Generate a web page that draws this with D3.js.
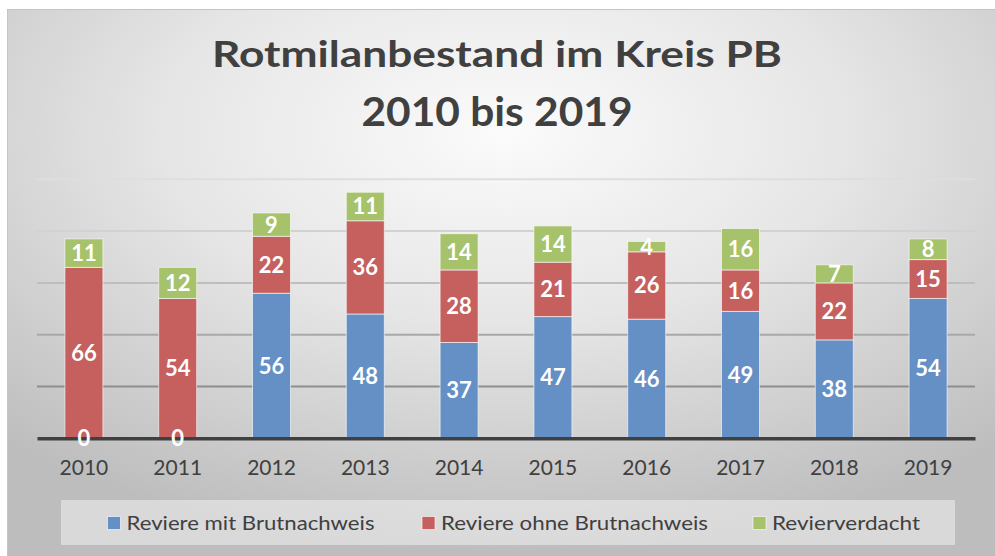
<!DOCTYPE html>
<html><head><meta charset="utf-8">
<script src="https://cdn.jsdelivr.net/npm/d3@7"></script>
<style>html,body{margin:0;padding:0;background:#fff;}svg{display:block;}</style>
</head><body>
<svg id="chart" width="995" height="556"></svg>
<script>
const years = ["2010","2011","2012","2013","2014","2015","2016","2017","2018","2019"];
const mitBrut = [0,0,56,48,37,47,46,49,38,54];
const ohneBrut = [66,54,22,36,28,21,26,16,22,15];
const verdacht = [11,12,9,11,14,14,4,16,7,8];
const seriesNames = ["Reviere mit Brutnachweis","Reviere ohne Brutnachweis","Revierverdacht"];
const seriesColors = ["#6590c5","#c5605e","#a6c26b"];
const gridTicks = [20,40,60,80,100];
const gridColors = ["#8e8e8e","#a8a8a8","#bebebe","#d2d2d2","#dedede"];

const svg = d3.select("#chart");
const defs = svg.append("defs");
const rg = defs.append("radialGradient").attr("id","bg")
  .attr("cx","50%").attr("cy","22%").attr("r","75%").attr("fx","50%").attr("fy","22%");
rg.append("stop").attr("offset","0%").attr("stop-color","#fbfbfb");
rg.append("stop").attr("offset","45%").attr("stop-color","#e6e6e6");
rg.append("stop").attr("offset","100%").attr("stop-color","#bdbdbd");

svg.append("rect").attr("x",7.5).attr("y",9.5).attr("width",995).attr("height",560)
  .attr("fill","url(#bg)").attr("stroke","#c4c4c4").attr("stroke-width",1);

// title
svg.append("text").attr("x",497).attr("y",67).attr("text-anchor","middle")
  .attr("font-family","Lato").attr("font-weight","bold").attr("font-size",37)
  .attr("fill","#404040").attr("textLength",570).attr("lengthAdjust","spacingAndGlyphs")
  .text("Rotmilanbestand im Kreis PB");
svg.append("text").attr("x",497).attr("y",126).attr("text-anchor","middle")
  .attr("font-family","Lato").attr("font-weight","bold").attr("font-size",41)
  .attr("fill","#404040").attr("textLength",271).attr("lengthAdjust","spacingAndGlyphs")
  .text("2010 bis 2019");

const x = d3.scaleBand().domain(years).range([37,975]).paddingInner(0.595).paddingOuter(0.2975);
const y = d3.scaleLinear().domain([0,100]).range([438.3,179.3]);

// gridlines
svg.append("g").selectAll("line").data(gridTicks).join("line")
  .attr("x1",37).attr("x2",975).attr("y1",d=>y(d)).attr("y2",d=>y(d))
  .attr("stroke",(d,i)=>gridColors[i]).attr("stroke-width",2);

const data = years.map((yr,i)=>({year:yr, a:mitBrut[i], b:ohneBrut[i], c:verdacht[i]}));
const stack = d3.stack().keys(["a","b","c"])(data);

const g = svg.append("g");
stack.forEach((layer,si)=>{
  g.append("g").selectAll("rect").data(layer).join("rect")
    .attr("x",d=>x(d.data.year)).attr("width",x.bandwidth())
    .attr("y",d=>y(d[1])).attr("height",d=>y(d[0])-y(d[1]))
    .attr("fill",seriesColors[si]).attr("stroke","rgba(255,255,255,0.6)").attr("stroke-width",1);
});

// axis baseline
const xAxis = d3.axisBottom(x).tickSize(0).tickPadding(22);
const ax = svg.append("g").attr("transform","translate(0,438.3)").call(xAxis);
ax.select(".domain").attr("stroke","#404040").attr("stroke-width",3.5);
ax.selectAll("text").attr("font-family","Lato").attr("font-size",21).attr("fill","#404040");

// labels
const lg = svg.append("g");
stack.forEach((layer,si)=>{
  lg.append("g").selectAll("text").data(layer).join("text")
    .attr("x",d=>x(d.data.year)+x.bandwidth()/2)
    .attr("y",d=>(y(d[0])+y(d[1]))/2)
    .attr("dy","0.36em").attr("text-anchor","middle")
    .attr("font-family","Lato").attr("font-weight","bold").attr("font-size",22)
    .attr("fill","#ffffff")
    .text(d=>d[1]-d[0]);
});

// legend
svg.append("rect").attr("x",61).attr("y",500).attr("width",894).attr("height",45)
  .attr("fill","rgba(240,240,240,0.55)");
const legX = [107.5,422,753];
const legW = [248,267,148];
seriesNames.forEach((n,i)=>{
  svg.append("rect").attr("x",legX[i]).attr("y",516.5).attr("width",13).attr("height",13)
    .attr("fill",seriesColors[i]).attr("stroke","rgba(255,255,255,0.6)").attr("stroke-width",1);
  svg.append("text").attr("x",legX[i]+19).attr("y",530).attr("font-family","Lato")
    .attr("font-size",20).attr("fill","#404040")
    .attr("textLength",legW[i]).attr("lengthAdjust","spacingAndGlyphs").text(n);
});
</script>
</body></html>
